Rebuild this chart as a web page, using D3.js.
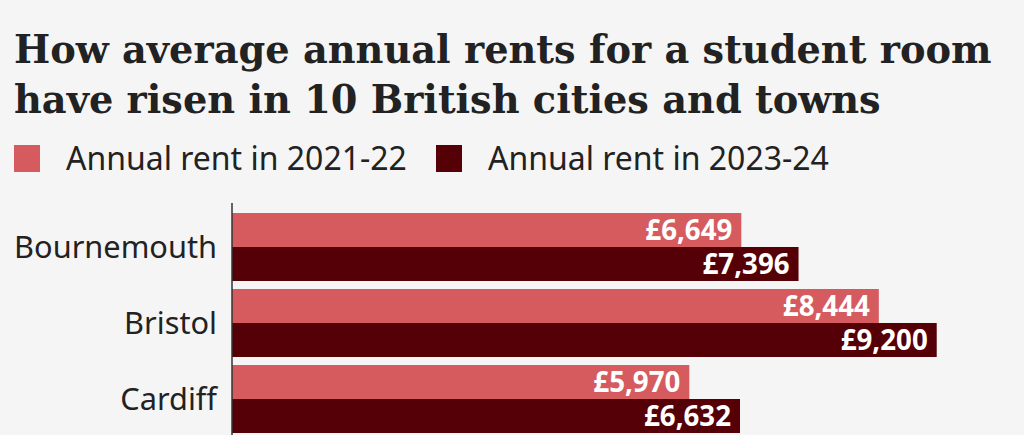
<!DOCTYPE html>
<html><head><meta charset="utf-8">
<script src="https://cdn.jsdelivr.net/npm/d3@7"></script>
<style>
html,body{margin:0;padding:0;background:#f5f5f5;}
svg{display:block;}
</style></head>
<body>
<svg id="chart" width="1024" height="435"></svg>
<script>
const titleLines = ["How average annual rents for a student room", "have risen in 10 British cities and towns"];
const cities = ["Bournemouth", "Bristol", "Cardiff"];
const seriesNames = ["Annual rent in 2021-22", "Annual rent in 2023-24"];
const rent2122 = [6649, 8444, 5970];
const rent2324 = [7396, 9200, 6632];
const seriesColors = ["#d55b5e", "#550007"];

const W = 1024, H = 435;
const svg = d3.select("#chart");
svg.append("rect").attr("width", W).attr("height", H).attr("fill", "#f5f5f5");

const serif = "'DejaVu Serif', serif";
const sans = "'Noto Sans', 'Open Sans', sans-serif";

function fit(textSel, target) {
  textSel.attr("font-size", 100);
  const w = textSel.node().getComputedTextLength();
  const fs = 100 * target / w;
  textSel.attr("font-size", fs);
  return fs;
}

// Title
const t1 = svg.append("text").attr("x", 14).attr("y", 63).attr("font-family", serif)
  .attr("font-weight", "bold").attr("fill", "#222").text(titleLines[0]);
const tfs = fit(t1, 978);
svg.append("text").attr("x", 14).attr("y", 113).attr("font-family", serif)
  .attr("font-weight", "bold").attr("fill", "#222").attr("font-size", tfs).text(titleLines[1]);

// Legend
const legendX = [14, 436];
const lt = [];
seriesNames.forEach((s, i) => {
  svg.append("rect").attr("x", legendX[i]).attr("y", 145).attr("width", 26).attr("height", 27)
    .attr("fill", seriesColors[i]);
  lt.push(svg.append("text").attr("x", legendX[i] + 52).attr("y", 170).attr("font-family", sans)
    .attr("fill", "#222").text(s));
});
const lfs = fit(lt[0], 341);
lt[1].attr("font-size", lfs);

// Scales
const x0 = 232;
const x = d3.scaleLinear().domain([0, 10000]).range([x0, x0 + 766]);
const y = d3.scaleBand().domain(cities).range([213, 433]).paddingInner(8 / 76).paddingOuter(0);
const ySub = d3.scaleBand().domain([0, 1]).range([0, y.bandwidth()]);

const data = cities.map((c, i) => ({ city: c, vals: [rent2122[i], rent2324[i]] }));

const g = svg.append("g");
const groups = g.selectAll("g.city").data(data).join("g")
  .attr("class", "city").attr("transform", d => `translate(0,${y(d.city)})`);

groups.selectAll("rect").data(d => d.vals.map((v, i) => ({ v, i }))).join("rect")
  .attr("x", x(0)).attr("y", d => ySub(d.i)).attr("height", ySub.bandwidth())
  .attr("width", d => x(d.v) - x(0)).attr("fill", d => seriesColors[d.i]);

const fmt = d => "£" + d3.format(",")(d);
const vlabels = groups.selectAll("text.val").data(d => d.vals.map((v, i) => ({ v, i }))).join("text")
  .attr("class", "val").attr("x", d => x(d.v) - 9).attr("y", d => ySub(d.i) + ySub.bandwidth() / 2 + 10)
  .attr("text-anchor", "end").attr("font-family", sans).attr("font-weight", "bold")
  .attr("fill", "#fff").text(d => fmt(d.v));
const vfs = fit(d3.select(vlabels.nodes()[0]), 87);
vlabels.attr("font-size", vfs);

// Category axis labels
const clabels = svg.selectAll("text.cat").data(cities).join("text")
  .attr("class", "cat").attr("x", 217).attr("y", d => y(d) + y.bandwidth() / 2 + 11)
  .attr("text-anchor", "end").attr("font-family", sans).attr("fill", "#222").text(d => d);
const cfs = fit(d3.select(clabels.nodes()[0]), 203);
clabels.attr("font-size", cfs);

// Axis line
svg.append("line").attr("x1", x0).attr("x2", x0).attr("y1", 203).attr("y2", H)
  .attr("stroke", "#333").attr("stroke-width", 1.5);
</script>
</body></html>
